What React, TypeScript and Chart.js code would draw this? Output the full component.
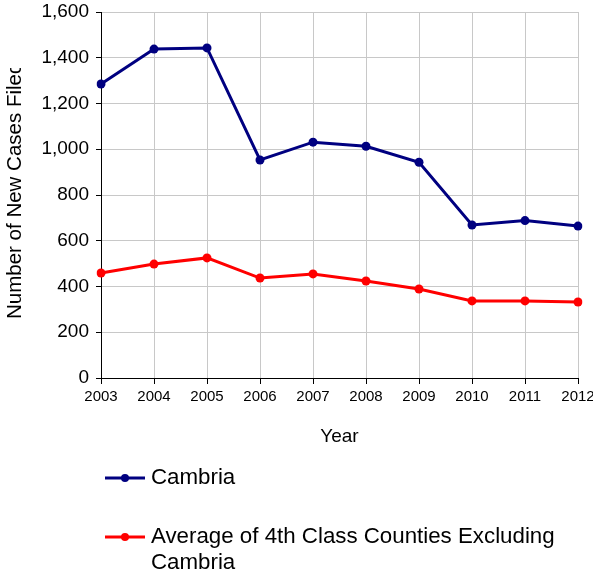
import React, { useEffect, useRef } from "react";
import { Chart, registerables } from "chart.js";

Chart.register(...registerables);

const years = ["2003", "2004", "2005", "2006", "2007", "2008", "2009", "2010", "2011", "2012"];
const cambria = [1285, 1438, 1443, 953, 1031, 1013, 943, 669, 688, 664];
const averageOthers = [459, 498, 525, 437, 455, 424, 389, 337, 337, 332];
const seriesLabels = ["Cambria", "Average of 4th Class Counties Excluding Cambria"];
const yAxisTitle = "Number of New Cases Filed";
const xAxisTitle = "Year";

const FONT = "Arial, 'Liberation Sans', sans-serif";

const yTitlePlugin = {
  id: "yTitleClipped",
  afterDraw(chart: any) {
    const ctx = chart.ctx;
    ctx.save();
    ctx.beginPath();
    ctx.rect(0, 68, 100, 575);
    ctx.clip();
    ctx.translate(15, 319);
    ctx.rotate(-Math.PI / 2);
    ctx.font = `20.5px ${FONT}`;
    ctx.fillStyle = "#000";
    ctx.textAlign = "left";
    ctx.textBaseline = "middle";
    ctx.fillText(yAxisTitle, 0, 0);
    ctx.restore();
  },
};

const legendPlugin = {
  id: "customLegend",
  afterDraw(chart: any) {
    const ctx = chart.ctx;
    const datasets = chart.data.datasets;
    const startY = [478, 537];
    const lineH = 26;
    const maxW = 430;
    ctx.save();
    ctx.font = `22.3px ${FONT}`;
    datasets.forEach((ds: any, i: number) => {
      const y = startY[i];
      ctx.strokeStyle = ds.borderColor;
      ctx.lineWidth = 3;
      ctx.beginPath();
      ctx.moveTo(105, y);
      ctx.lineTo(145, y);
      ctx.stroke();
      ctx.fillStyle = ds.borderColor;
      ctx.beginPath();
      ctx.arc(125, y, 4, 0, Math.PI * 2);
      ctx.fill();
      const words = String(ds.label).split(" ");
      const lines: string[] = [];
      let cur = "";
      words.forEach((w) => {
        const test = cur ? cur + " " + w : w;
        if (ctx.measureText(test).width > maxW && cur) {
          lines.push(cur);
          cur = w;
        } else cur = test;
      });
      if (cur) lines.push(cur);
      ctx.fillStyle = "#000";
      ctx.textAlign = "left";
      ctx.textBaseline = "middle";
      lines.forEach((ln, j) => ctx.fillText(ln, 151, y + j * lineH));
    });
    ctx.restore();
  },
};

export default function App() {
  const ref = useRef<HTMLCanvasElement | null>(null);
  useEffect(() => {
    if (!ref.current) return;
    const chart = new Chart(ref.current, {
      type: "line",
      data: {
        labels: years,
        datasets: [
          {
            label: seriesLabels[0],
            data: cambria,
            borderColor: "#000080",
            backgroundColor: "#000080",
            borderWidth: 3,
            pointRadius: 4.5,
            pointBackgroundColor: "#000080",
            pointBorderWidth: 0,
            tension: 0,
          },
          {
            label: seriesLabels[1],
            data: averageOthers,
            borderColor: "#FF0000",
            backgroundColor: "#FF0000",
            borderWidth: 3,
            pointRadius: 4.5,
            pointBackgroundColor: "#FF0000",
            pointBorderWidth: 0,
            tension: 0,
          },
        ],
      },
      options: {
        animation: false,
        responsive: false,
        maintainAspectRatio: false,
        layout: { padding: { top: 12, right: 15, left: 0, bottom: 127 } },
        plugins: {
          legend: { display: false },
          tooltip: { enabled: false },
        },
        scales: {
          x: {
            type: "category",
            offset: false,
            grid: {
              color: "#c8c8c8",
              lineWidth: 1,
              tickColor: "#000",
              tickLength: 6,
              drawTicks: true,
            },
            border: { color: "#000", width: 1 },
            ticks: {
              color: "#000",
              font: { family: FONT, size: 15 },
              padding: 4,
              maxRotation: 0,
              autoSkip: false,
            },
            title: {
              display: true,
              text: xAxisTitle,
              color: "#000",
              font: { family: FONT, size: 19 },
              padding: { top: 11, bottom: 0 },
            },
            afterFit(scale: any) {
              scale.height = 70;
              scale.paddingLeft = 0;
              scale.paddingRight = 0;
            },
          },
          y: {
            min: 0,
            max: 1600,
            grid: {
              color: "#c8c8c8",
              lineWidth: 1,
              tickColor: "#000",
              tickLength: 5,
              drawTicks: true,
            },
            border: { color: "#000", width: 1 },
            ticks: {
              stepSize: 200,
              color: "#000",
              font: { family: FONT, size: 19 },
              padding: 7,
              callback: (v: any) => Number(v).toLocaleString("en-US"),
            },
            afterFit(scale: any) {
              scale.width = 101;
              scale.paddingTop = 0;
              scale.paddingBottom = 0;
            },
          },
        },
      },
      plugins: [yTitlePlugin, legendPlugin],
    });
    return () => chart.destroy();
  }, []);
  return (
    <div style={{ position: "fixed", left: 0, top: 0, width: 593, height: 575, background: "#fff" }}>
      <canvas ref={ref} width={593} height={575} style={{ display: "block" }} />
    </div>
  );
}
